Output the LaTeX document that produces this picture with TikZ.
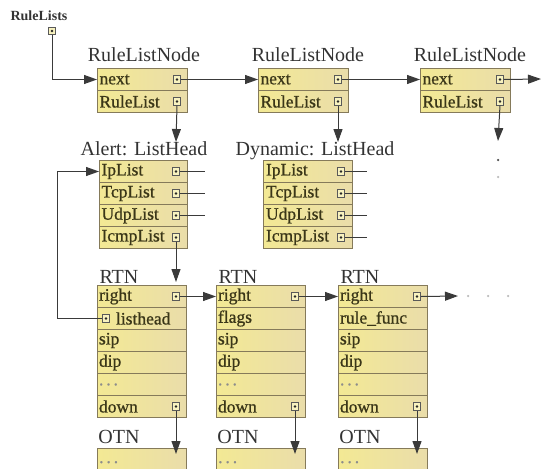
\documentclass[tikz,border=0pt]{standalone}
\usepackage{fontspec}
\setmainfont{Liberation Serif}
\newfontfamily\rowfont[FakeBold=0.8]{Liberation Serif}
\usetikzlibrary{arrows.meta}
\definecolor{bord}{HTML}{857A5A}
\definecolor{fillL}{HTML}{F3E994}
\definecolor{fillR}{HTML}{EADDAA}
\definecolor{rtxt}{HTML}{3A3618}
\definecolor{ltxt}{HTML}{333333}
\definecolor{lin}{HTML}{3A3A3A}
\definecolor{dotc}{HTML}{BBBBBB}
\tikzset{
  row/.style={draw=bord, line width=1pt, left color=fillL, right color=fillR,
    minimum height=22pt, inner xsep=1.2pt, inner ysep=0pt, anchor=north west,
    text=rtxt, font=\rowfont\fontsize{17.5}{17.5}\selectfont, align=left, text width=#1},
  row/.default=86pt,
  lbl/.style={text=ltxt, font=\fontsize{20}{20}\selectfont, inner sep=0pt, anchor=base},
  sq/.style={draw=black!65, fill=fillL!60, line width=0.7pt, minimum size=7.5pt, inner sep=0pt,
    path picture={\fill[black!85] (path picture bounding box.center) circle (1.3pt);}},
  arr/.style={draw=lin, line width=1pt, -{Triangle[length=13pt,width=9pt]}},
  ln/.style={draw=lin, line width=1pt},
  gdot/.style={circle, fill=#1, inner sep=0pt, minimum size=2.5pt},
  otnrow/.style={draw=bord, line width=1pt, left color=fillL, right color=fillR,
    minimum height=22pt, anchor=north west}
}
\begin{document}
\begin{tikzpicture}[x=1pt,y=-1pt]
\useasboundingbox (0,0) rectangle (545,468);
\clip (0,0) rectangle (545,468);
% ---- RuleLists
\node[lbl, font=\fontsize{14}{14}\selectfont\bfseries] (rulelists) at (39,21) {RuleLists};
\node[sq] (rlsq) at (52,31) {};
% ---- RuleListNodes
\node[lbl] (l1) at (144,62) {RuleListNode};
\node[lbl] (l2) at (308,62) {RuleListNode};
\node[lbl] (l3) at (470,62) {RuleListNode};
\node[row, minimum width=90pt] (n1a) at (97,68) {next};
\node[row, minimum width=90pt] (n1b) at (97,90) {RuleList};
\node[row, minimum width=90pt] (n2a) at (258,68) {next};
\node[row, minimum width=90pt] (n2b) at (258,90) {RuleList};
\node[row, minimum width=90pt] (n3a) at (420,68) {next};
\node[row, minimum width=90pt] (n3b) at (420,90) {RuleList};
\foreach \n in {n1a,n1b,n2a,n2b,n3a,n3b}
  \node[sq] (\n sq) at ([xshift=-11pt]\n.east) {};
% ---- ListHeads
\node[lbl] (lh1) at (144,155) {Alert: ListHead};
\node[lbl] (lh2) at (315,155) {Dynamic: ListHead};
\node[row=84pt, minimum width=88pt] (a1) at (99,160) {IpList};
\node[row=84pt, minimum width=88pt] (a2) at (99,182) {TcpList};
\node[row=84pt, minimum width=88pt] (a3) at (99,204) {UdpList};
\node[row=84pt, minimum width=88pt] (a4) at (99,226) {IcmpList};
\node[row=84pt, minimum width=89pt] (d1) at (263,160) {IpList};
\node[row=84pt, minimum width=89pt] (d2) at (263,182) {TcpList};
\node[row=84pt, minimum width=89pt] (d3) at (263,204) {UdpList};
\node[row=84pt, minimum width=89pt] (d4) at (263,226) {IcmpList};
\foreach \n in {a1,a2,a3,a4,d1,d2,d3,d4}
  \node[sq] (\n sq) at ([xshift=-12pt]\n.east) {};
% ---- RTNs
\node[lbl] (t1) at (119,283) {RTN};
\node[lbl] (t2) at (238,283) {RTN};
\node[lbl] (t3) at (360,283) {RTN};
\node[row, minimum width=89pt] (r1a) at (97,285) {right};
\node[row, minimum width=89pt] (r1b) at (97,307) {\hspace*{17pt}listhead};
\node[row, minimum width=89pt] (r1c) at (97,329) {sip};
\node[row, minimum width=89pt] (r1d) at (97,351) {dip};
\node[row, minimum width=89pt] (r1e) at (97,373) {\textcolor{black!45}{.\,.\,.}};
\node[row, minimum width=89pt] (r1f) at (97,395) {down};
\node[row, minimum width=89pt] (r2a) at (216,285) {right};
\node[row, minimum width=89pt] (r2b) at (216,307) {flags};
\node[row, minimum width=89pt] (r2c) at (216,329) {sip};
\node[row, minimum width=89pt] (r2d) at (216,351) {dip};
\node[row, minimum width=89pt] (r2e) at (216,373) {\textcolor{black!45}{.\,.\,.}};
\node[row, minimum width=89pt] (r2f) at (216,395) {down};
\node[row, minimum width=89pt] (r3a) at (338,285) {right};
\node[row, minimum width=89pt] (r3b) at (338,307) {rule\_func};
\node[row, minimum width=89pt] (r3c) at (338,329) {sip};
\node[row, minimum width=89pt] (r3d) at (338,351) {dip};
\node[row, minimum width=89pt] (r3e) at (338,373) {\textcolor{black!45}{.\,.\,.}};
\node[row, minimum width=89pt] (r3f) at (338,395) {down};
\foreach \n in {r1a,r1f,r2a,r2f,r3a,r3f}
  \node[sq] (\n sq) at ([xshift=-11pt]\n.east) {};
\node[sq] (r1bsq) at ([xshift=9pt]r1b.west) {};
% ---- OTNs
\node[lbl] (o1) at (119,443) {OTN};
\node[lbl] (o2) at (238,443) {OTN};
\node[lbl] (o3) at (360,443) {OTN};
\node[otnrow, minimum width=89pt] (o1a) at (97,448) {};
\node[otnrow, minimum width=89pt] (o2a) at (216,448) {};
\node[otnrow, minimum width=89pt] (o3a) at (338,448) {};
\foreach \n in {o1a,o2a,o3a}
  \node[text=black!45, font=\rowfont\fontsize{17.5}{17.5}\selectfont, inner sep=0pt, anchor=base west]
    (\n txt) at ([xshift=2pt,yshift=-15pt]\n.north west) {.\,.\,.};
% ---- free ends
\coordinate (n3out) at (541,79);
\coordinate (n3down) at (498,141);
\coordinate (n1down) at (176,142);
\coordinate (n2down) at (338,142);
\coordinate (aend) at (205,0);
\coordinate (dend) at (367,0);
\coordinate (loopx) at (57,0);
\coordinate (r3out) at (458,296);
% ---- connectors
\draw[arr] (rlsq.south) |- (n1a.west);
\draw[arr] (n1asq.east) -- (n2a.west);
\draw[arr] (n2asq.east) -- (n3a.west);
\draw[arr] (n3asq.east) -- (n3out);
\draw[arr] (n1bsq.south) -- (n1down);
\draw[arr] (n2bsq.south) -- (n2down);
\draw[arr] (n3bsq.south) -- (n3down);
\node[gdot=black!70] (dv1) at (498,160) {};
\node[gdot=dotc] (dv2) at (498,177) {};
\foreach \n in {a1,a2,a3}
  \draw[ln] (\n sq.east) -- (\n sq.east -| aend);
\foreach \n in {d1,d2,d3,d4}
  \draw[ln] (\n sq.east) -- (\n sq.east -| dend);
\draw[arr] (a4sq.south) -- ([yshift=3pt]a4sq.south |- r1a.north);
\draw[arr] (r1bsq.west) -- (r1bsq.west -| loopx) |- (a1.west);
\draw[arr] (r1asq.east) -- (r2a.west);
\draw[arr] (r2asq.east) -- (r3a.west);
\draw[arr] (r3asq.east) -- (r3out);
\node[gdot=dotc] (hd1) at (468,296) {};
\node[gdot=dotc] (hd2) at (488,296) {};
\node[gdot=dotc] (hd3) at (508,296) {};
\draw[arr] (r1fsq.south) -- ([yshift=-6pt]r1fsq.south |- o1a.north);
\draw[arr] (r2fsq.south) -- ([yshift=-6pt]r2fsq.south |- o2a.north);
\draw[arr] (r3fsq.south) -- ([yshift=-6pt]r3fsq.south |- o3a.north);
\end{tikzpicture}
\end{document}
